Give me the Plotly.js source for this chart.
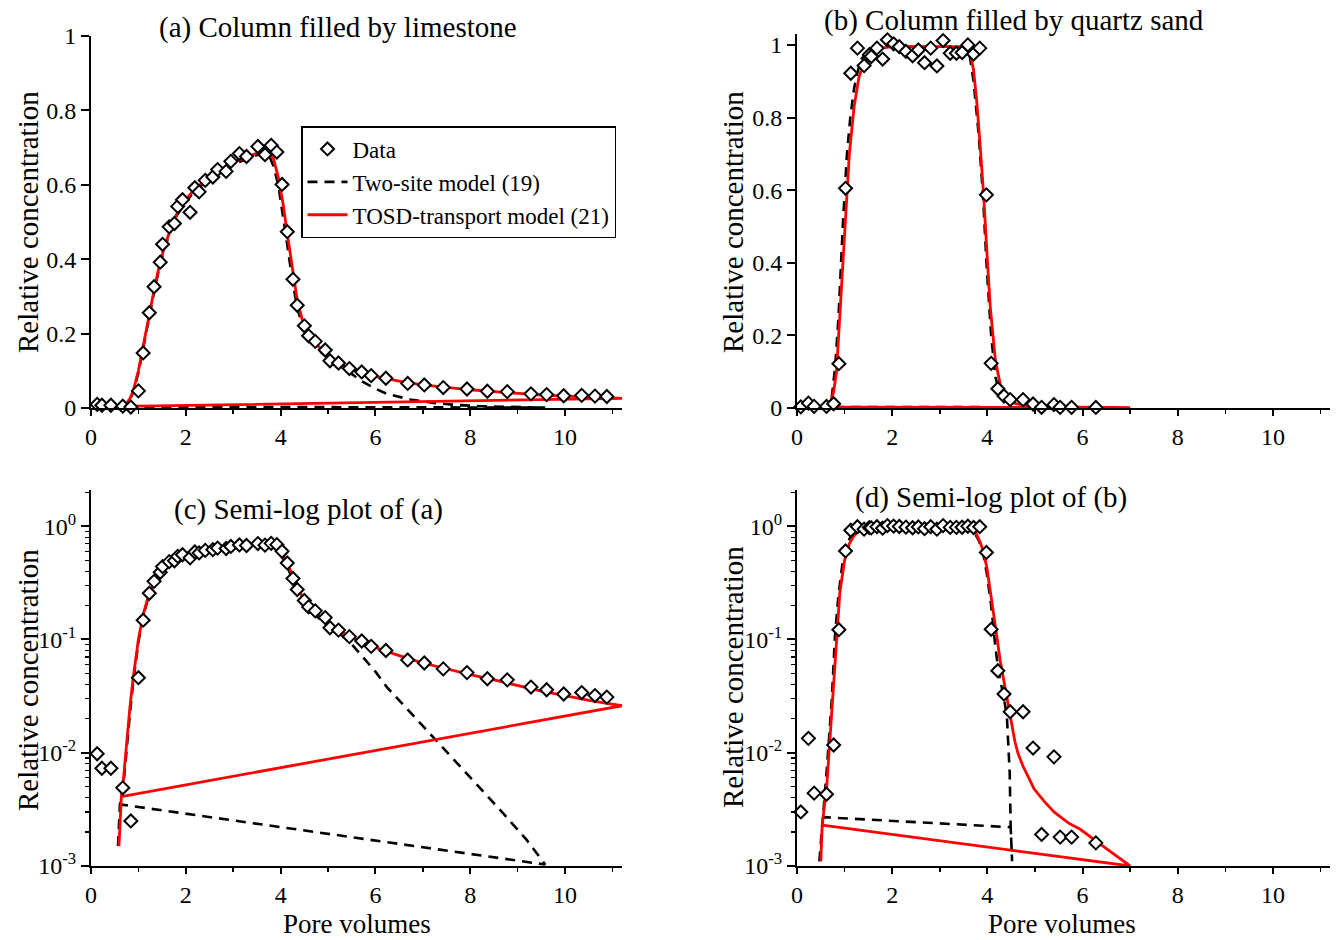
<!DOCTYPE html>
<html>
<head>
<meta charset="utf-8">
<script src="https://cdn.plot.ly/plotly-3.0.1.min.js"></script>
<style>html,body{margin:0;padding:0;background:#fff;}#chart{width:1340px;height:940px;}</style>
</head>
<body>
<div id="chart"></div>
<script>
// ---- Data: column filled by limestone (panels a, c) ----
const limeX = [0.13, 0.23, 0.42, 0.67, 0.84, 1.0, 1.10, 1.23, 1.33, 1.46, 1.51, 1.65, 1.76, 1.83, 1.93, 2.09, 2.19, 2.28, 2.41, 2.57, 2.67, 2.85, 2.95, 3.13, 3.28, 3.52, 3.67, 3.80, 3.92, 4.03, 4.14, 4.26, 4.35, 4.50, 4.59, 4.73, 4.94, 5.04, 5.22, 5.45, 5.71, 5.91, 6.22, 6.68, 7.03, 7.43, 7.93, 8.36, 8.78, 9.28, 9.61, 9.97, 10.35, 10.63, 10.88];
const limeY = [0.0098, 0.0073, 0.0073, 0.0049, 0.0025, 0.046, 0.148, 0.256, 0.326, 0.392, 0.44, 0.487, 0.496, 0.542, 0.560, 0.526, 0.592, 0.581, 0.612, 0.621, 0.641, 0.636, 0.663, 0.684, 0.676, 0.703, 0.681, 0.706, 0.688, 0.601, 0.474, 0.346, 0.276, 0.221, 0.194, 0.179, 0.156, 0.127, 0.121, 0.106, 0.097, 0.087, 0.080, 0.066, 0.062, 0.055, 0.051, 0.045, 0.044, 0.038, 0.036, 0.033, 0.034, 0.032, 0.031];
const limeTwoSiteX = [0.57, 0.61, 0.68, 0.75, 0.82, 0.89, 1.0, 1.1, 1.21, 1.32, 1.42, 1.52, 1.62, 1.8, 2.0, 2.2, 2.5, 2.8, 3.1, 3.4, 3.6, 3.75, 3.85, 3.95, 4.05, 4.15, 4.25, 4.35, 4.45, 4.6, 4.8, 5.0, 5.3, 5.46, 5.71, 6.0, 6.24, 6.73, 7.22, 7.71, 8.21, 8.7, 9.19, 9.58, 0.61];
const limeTwoSiteY = [0.0015, 0.0035, 0.005, 0.011, 0.022, 0.042, 0.095, 0.16, 0.235, 0.305, 0.365, 0.415, 0.455, 0.515, 0.555, 0.585, 0.615, 0.64, 0.66, 0.675, 0.685, 0.68, 0.65, 0.6, 0.52, 0.43, 0.34, 0.27, 0.225, 0.185, 0.155, 0.135, 0.108, 0.095, 0.072, 0.052, 0.038, 0.023, 0.0137, 0.0082, 0.0049, 0.0029, 0.0017, 0.00103, 0.0035];
const limeTosdX = [0.59, 0.64, 0.68, 0.75, 0.82, 0.89, 1.0, 1.1, 1.21, 1.32, 1.42, 1.52, 1.62, 1.8, 2.0, 2.2, 2.5, 2.8, 3.1, 3.4, 3.6, 3.75, 3.85, 3.95, 4.05, 4.15, 4.25, 4.35, 4.45, 4.6, 4.8, 5.0, 5.3, 5.6, 6.0, 6.5, 7.0, 7.5, 8.0, 8.5, 9.0, 9.5, 10.0, 10.5, 11.2, 0.64];
const limeTosdY = [0.0015, 0.0041, 0.0056, 0.0128, 0.025, 0.046, 0.1, 0.166, 0.24, 0.31, 0.37, 0.42, 0.46, 0.52, 0.56, 0.59, 0.62, 0.645, 0.665, 0.68, 0.69, 0.685, 0.67, 0.62, 0.55, 0.46, 0.37, 0.29, 0.24, 0.195, 0.165, 0.14, 0.115, 0.1, 0.085, 0.072, 0.062, 0.055, 0.049, 0.044, 0.039, 0.035, 0.032, 0.029, 0.026, 0.0041];

// ---- Data: column filled by quartz sand (panels b, d) ----
const sandX = [0.08, 0.24, 0.36, 0.62, 0.77, 0.88, 1.02, 1.13, 1.27, 1.41, 1.52, 1.56, 1.68, 1.80, 1.90, 2.03, 2.15, 2.29, 2.43, 2.55, 2.68, 2.81, 2.94, 3.07, 3.22, 3.35, 3.47, 3.59, 3.71, 3.84, 3.98, 4.08, 4.22, 4.35, 4.48, 4.75, 4.96, 5.14, 5.40, 5.53, 5.77, 6.28];
const sandY = [0.0030, 0.0134, 0.0044, 0.0043, 0.0117, 0.122, 0.605, 0.922, 0.991, 0.943, 0.973, 0.968, 0.991, 0.961, 1.014, 1.003, 0.995, 0.982, 0.970, 0.986, 0.951, 0.991, 0.942, 1.012, 0.977, 0.977, 0.979, 1.0, 0.975, 0.991, 0.587, 0.123, 0.053, 0.033, 0.023, 0.023, 0.011, 0.0019, 0.0092, 0.0018, 0.0018, 0.0016];
const sandTwoSiteX = [0.47, 0.55, 0.63, 0.73, 0.8, 0.87, 0.97, 1.05, 1.12, 1.2, 1.26, 1.35, 1.5, 1.7, 3.55, 3.63, 3.71, 3.82, 3.91, 3.99, 4.08, 4.17, 4.24, 4.34, 4.41, 4.47, 4.49, 4.52, 4.49, 0.55];
const sandTwoSiteY = [0.0011, 0.0027, 0.0075, 0.029, 0.11, 0.245, 0.52, 0.7, 0.8, 0.88, 0.92, 0.96, 0.985, 0.995, 0.995, 0.97, 0.9, 0.75, 0.58, 0.38, 0.2, 0.085, 0.05, 0.032, 0.021, 0.0066, 0.0022, 0.0011, 0.0022, 0.0027];
const sandTosdX = [0.5, 0.53, 0.63, 0.7, 0.77, 0.83, 0.9, 1.0, 1.1, 1.2, 1.3, 1.4, 1.5, 1.7, 2.0, 3.5, 3.64, 3.71, 3.78, 3.85, 3.92, 3.99, 4.06, 4.17, 4.27, 4.38, 4.48, 4.52, 4.58, 4.65, 4.75, 4.87, 4.98, 5.2, 5.4, 5.7, 5.96, 6.25, 6.52, 6.75, 7.0, 0.53];
const sandTosdY = [0.0011, 0.0023, 0.0054, 0.0148, 0.044, 0.1, 0.26, 0.5, 0.7, 0.83, 0.91, 0.95, 0.975, 0.99, 0.995, 0.995, 0.98, 0.93, 0.84, 0.72, 0.59, 0.43, 0.28, 0.13, 0.065, 0.037, 0.022, 0.017, 0.0125, 0.0097, 0.0076, 0.006, 0.0048, 0.0037, 0.0030, 0.0024, 0.0021, 0.0017, 0.0014, 0.0012, 0.001, 0.0023];

// ---- Labels ----
const seriesNames = ['Data', 'Two-site model (19)', 'TOSD-transport model (21)'];
const panelTitles = ['(a) Column filled by limestone', '(b) Column filled by quartz sand', '(c) Semi-log plot of (a)', '(d) Semi-log plot of (b)'];
const yTitle = 'Relative concentration';
const xTitle = 'Pore volumes';
const logTickVals = [0.001, 0.01, 0.1, 1];
const logTickText = ['10<sup>-3</sup>', '10<sup>-2</sup>', '10<sup>-1</sup>', '10<sup>0</sup>'];

const FONT = '"Liberation Serif", "Times New Roman", serif';
const RED = '#ff0000';

const minorLog = [];
for (let d = -3; d <= 0; d++) for (let k = 2; k <= 9; k++) minorLog.push(k * Math.pow(10, d));

function traces(xd, yd, x2, y2, x3, y3, xa, ya, show) {
  return [
    {x: x2, y: y2, xaxis: xa, yaxis: ya, type: 'scatter', mode: 'lines', name: seriesNames[1], legendrank: 2, showlegend: show,
     line: {color: 'black', width: 2.6, dash: '10px,7px'}},
    {x: x3, y: y3, xaxis: xa, yaxis: ya, type: 'scatter', mode: 'lines', name: seriesNames[2], legendrank: 3, showlegend: show,
     line: {color: RED, width: 2.8}},
    {x: xd, y: yd, xaxis: xa, yaxis: ya, type: 'scatter', mode: 'markers', name: seriesNames[0], legendrank: 1, showlegend: show,
     cliponaxis: false,
     marker: {symbol: 'diamond', size: 10, color: 'white', line: {color: 'black', width: 2}}}
  ];
}

const data = [].concat(
  traces(limeX, limeY, limeTwoSiteX, limeTwoSiteY, limeTosdX, limeTosdY, 'x', 'y', true),
  traces(sandX, sandY, sandTwoSiteX, sandTwoSiteY, sandTosdX, sandTosdY, 'x2', 'y2', false),
  traces(limeX, limeY, limeTwoSiteX, limeTwoSiteY, limeTosdX, limeTosdY, 'x3', 'y3', false),
  traces(sandX, sandY, sandTwoSiteX, sandTwoSiteY, sandTosdX, sandTosdY, 'x4', 'y4', false)
);

const tickfont = {family: FONT, size: 24, color: 'black'};
function xAxis(domain, anchor) {
  return {domain: domain, anchor: anchor, range: [0, 11.2], tick0: 0, dtick: 2,
    ticks: 'outside', ticklen: 6, tickwidth: 2, tickcolor: 'black',
    showline: true, linewidth: 2, linecolor: 'black', showgrid: false, zeroline: false,
    tickfont: tickfont, ticklabelstandoff: 0,
    minor: {dtick: 1, tick0: 0, ticks: 'outside', ticklen: 4, tickwidth: 1.5, tickcolor: 'black', showgrid: false}};
}
function yLin(domain, anchor, top) {
  return {domain: domain, anchor: anchor, range: [0, top], tick0: 0, dtick: 0.2,
    ticks: 'outside', ticklen: 8, tickwidth: 2, tickcolor: 'black',
    showline: true, linewidth: 2, linecolor: 'black', showgrid: false, zeroline: false,
    tickfont: tickfont, ticklabelstandoff: 0};
}
function yLog(domain, anchor) {
  return {domain: domain, anchor: anchor, type: 'log', range: [-3, 0.32],
    tickmode: 'array', tickvals: logTickVals, ticktext: logTickText,
    ticks: 'outside', ticklen: 8, tickwidth: 2, tickcolor: 'black',
    showline: true, linewidth: 2, linecolor: 'black', showgrid: false, zeroline: false,
    tickfont: tickfont, ticklabelstandoff: 0,
    minor: {tickmode: 'array', tickvals: minorLog, ticks: 'outside', ticklen: 4, tickwidth: 1.2, tickcolor: 'black', showgrid: false}};
}

const W = 1340, H = 940;
const px = v => v / W, py = v => 1 - v / H;
const xdL = [px(91), px(622)], xdR = [px(797), px(1330)];

function ann(text, x, y, size, angle) {
  return {text: text, x: px(x), y: py(y), xref: 'paper', yref: 'paper', showarrow: false,
    xanchor: 'center', yanchor: 'middle', textangle: angle || 0,
    font: {family: FONT, size: size, color: 'black'}};
}

const layout = {
  width: W, height: H,
  margin: {l: 0, r: 0, t: 0, b: 0},
  paper_bgcolor: 'white', plot_bgcolor: 'white',
  font: {family: FONT, color: 'black'},
  xaxis: xAxis(xdL, 'y'),
  yaxis: yLin([py(408), py(36)], 'x', 1),
  xaxis2: xAxis(xdR, 'y2'),
  yaxis2: yLin([py(408), py(34)], 'x2', 1.03),
  xaxis3: xAxis(xdL, 'y3'),
  yaxis3: yLog([py(866), py(490)], 'x3'),
  xaxis4: xAxis(xdR, 'y4'),
  yaxis4: yLog([py(866), py(490)], 'x4'),
  showlegend: true,
  legend: {x: px(301), y: py(126), xanchor: 'left', yanchor: 'top',
    bordercolor: 'black', borderwidth: 1.5, bgcolor: 'white',
    font: {family: FONT, size: 23, color: 'black'}, tracegroupgap: 0, itemwidth: 40, traceorder: 'normal'},
  annotations: [
    ann(panelTitles[0], 338, 27, 29),
    ann(panelTitles[1], 1014, 21, 29),
    ann(panelTitles[2], 308, 510, 29),
    ann(panelTitles[3], 991, 497, 29),
    ann(yTitle, 28, 222, 29, -90),
    ann(yTitle, 733, 222, 29, -90),
    ann(yTitle, 28, 680, 29, -90),
    ann(yTitle, 733, 677, 29, -90),
    ann(xTitle, 357, 924, 27),
    ann(xTitle, 1062, 924, 27)
  ]
};

Plotly.newPlot('chart', data, layout, {staticPlot: true, displayModeBar: false});
</script>
</body>
</html>
